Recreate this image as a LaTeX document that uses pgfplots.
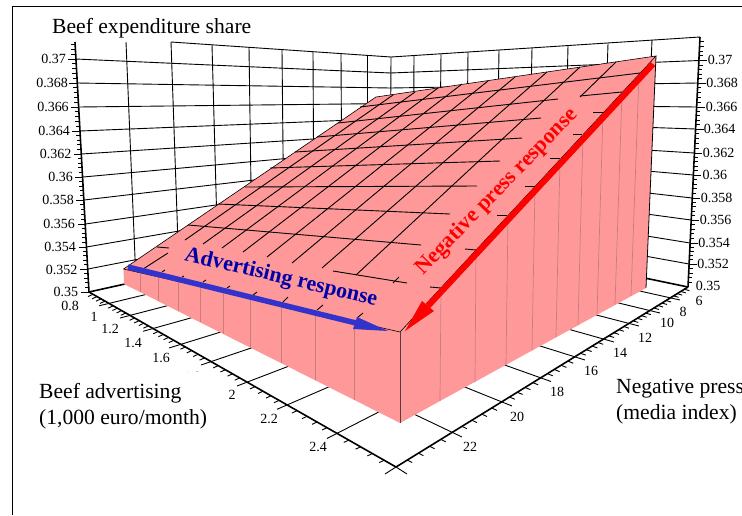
\documentclass[border=0pt]{standalone}
\usepackage{fontspec}
\setmainfont{Liberation Serif}
\usepackage{pgfplots}
\pgfplotsset{compat=1.18}
\definecolor{surf}{HTML}{FF9999}
\definecolor{rib}{HTML}{C87C80}
\definecolor{corner}{HTML}{5A3A3C}
\definecolor{advblue}{HTML}{3333CC}
\definecolor{advtext}{HTML}{0000AA}
\pgfplotsset{
  gl/.style={black,line width=0.9pt},
  ax/.style={black,line width=1.6pt},
  tk/.style={black,line width=0.9pt},
  mesh/.style={black,line width=0.9pt},
  ribline/.style={rib,line width=0.7pt},
}
% the picture is in perspective, so everything is plotted in picture coordinates
\newcommand{\seg}[5][gl]{\addplot[#1] coordinates {(#2,#3)(#4,#5)};}
\newcommand{\minors}[6]{%
  \pgfplotsforeachungrouped \t in {0.2,0.4,0.6,0.8}{%
    \pgfmathsetmacro{\xa}{#1+\t*(#3-#1)}%
    \pgfmathsetmacro{\ya}{#2+\t*(#4-#2)}%
    \pgfmathsetmacro{\xb}{\xa+#5}%
    \pgfmathsetmacro{\yb}{\ya+#6}%
    \edef\temp{\noexpand\addplot[tk] coordinates {(\xa,\ya)(\xb,\yb)};}\temp
  }}
\newcommand{\ticklab}[3]{\node[font=\fontsize{14}{16}\selectfont,inner sep=0pt] at (#1,#2) {#3};}
\begin{document}
\begin{tikzpicture}
\path[use as bounding box,clip] (0,0) rectangle (742pt,515pt);
\begin{axis}[
  scale only axis,
  width=742pt,
  height=515pt,
  xmin=0, xmax=742,
  ymin=0, ymax=515,
  y dir=reverse,
  hide axis,
  clip=false,
]
% left wall, horizontal lines
\seg{75.5}{59}{390.5}{73}
\seg{77}{83}{390.5}{88}
\seg{78.5}{107}{390.5}{103.5}
\seg{80}{131}{390.5}{118.5}
\seg{81.5}{154}{390.5}{134}
\seg{83}{177}{390.5}{149}
\seg{84}{200}{390.5}{164}
\seg{85.5}{224}{390.5}{179.5}
\seg{86.5}{247}{390.5}{194.5}
\seg{88}{269}{390.5}{210}
% left wall, vertical lines
\seg{126}{42}{136}{281.5}
\seg{171}{42}{179}{272}
\seg{212}{45}{218}{263}
\seg{249}{47}{252}{256}
\seg{282}{50}{284}{249}
\seg{313}{52}{314}{242}
\seg{341}{54}{342}{236}
\seg{367}{56}{367}{230}
\seg{391}{57}{390}{225}
\seg{171}{42}{391}{57}
% right wall
\seg{391}{57}{700}{37}
\seg{390.5}{73}{699}{60.5}
\seg{390.5}{88}{697.7}{83}
\seg{390.5}{103.5}{696.5}{107}
\seg{390.5}{118.5}{695.5}{129}
\seg{390.5}{134}{694.3}{153}
\seg{390.5}{149}{693.3}{175}
\seg{390.5}{164}{692.2}{198}
\seg{390.5}{179.5}{691}{220}
\seg{390.5}{194.5}{690}{243}
\seg{390.5}{210}{689}{264}
\seg{414}{56}{413}{230}
\seg{441}{54}{439}{235}
\seg{468}{52}{466}{241}
\seg{499}{50}{496}{247}
\seg{532}{48}{528}{254}
\seg{568}{46}{563}{261}
\seg{608}{43.5}{601}{269}
\seg{652}{40}{642}{277}
% floor, lines of constant advertising
\seg{99}{305.8}{413}{230}
\seg{120}{318}{439}{235}
\seg{143}{331.3}{466}{241}
\seg{169}{348}{496}{247}
\seg{201}{365}{528}{254}
\seg{237}{386}{563}{261}
\seg{277}{409.3}{601}{269}
\seg{327}{438.5}{642}{277}
\seg[ax]{89}{292}{390}{225}
% floor, lines of constant negative press
\seg{680}{300}{367}{230}
\seg{660}{313}{342}{236}
\seg{639}{326}{314}{242}
\seg{614}{342}{284}{249}
\seg{585}{360}{252}{256}
\seg{551}{381.5}{218}{263}
\seg{512}{406}{179}{272}
\seg{462}{437}{136}{281.5}
\seg[ax]{688}{287}{390}{225}
% axes
\seg[ax]{75}{42}{89}{292}
\seg[ax]{700}{37}{688}{287}
\seg[ax]{89}{292}{396}{467}
\seg[ax]{688}{287}{396}{467}
\seg[tk]{385}{474}{396}{467}
\seg[tk]{396}{467}{407}{474}
% vertical axis ticks, left
\seg[tk]{67.5}{59}{75.5}{59}
\seg[tk]{69}{83}{77}{83}
\seg[tk]{70.5}{107}{78.5}{107}
\seg[tk]{72}{131}{80}{131}
\seg[tk]{73.5}{154}{81.5}{154}
\seg[tk]{75}{177}{83}{177}
\seg[tk]{76}{200}{84}{200}
\seg[tk]{77.5}{224}{85.5}{224}
\seg[tk]{78.5}{247}{86.5}{247}
\seg[tk]{80}{269}{88}{269}
\seg[tk]{81}{292}{89}{292}
\seg[tk]{71}{54.3}{75.2}{54.3}
\seg[tk]{71}{49.6}{75}{49.6}
\seg[tk]{70.5}{44.9}{74.7}{44.9}
\minors{75.5}{59}{77}{83}{-4}{0}
\minors{77}{83}{78.5}{107}{-4}{0}
\minors{78.5}{107}{80}{131}{-4}{0}
\minors{80}{131}{81.5}{154}{-4}{0}
\minors{81.5}{154}{83}{177}{-4}{0}
\minors{83}{177}{84}{200}{-4}{0}
\minors{84}{200}{85.5}{224}{-4}{0}
\minors{85.5}{224}{86.5}{247}{-4}{0}
\minors{86.5}{247}{88}{269}{-4}{0}
\minors{88}{269}{89}{292}{-4}{0}
% vertical axis ticks, right
\seg[tk]{699}{60.5}{707}{60.5}
\seg[tk]{697.7}{83}{705.7}{83}
\seg[tk]{696.5}{107}{704.5}{107}
\seg[tk]{695.5}{129}{703.5}{129}
\seg[tk]{694.3}{153}{702.3}{153}
\seg[tk]{693.3}{175}{701.3}{175}
\seg[tk]{692.2}{198}{700.2}{198}
\seg[tk]{691}{220}{699}{220}
\seg[tk]{690}{243}{698}{243}
\seg[tk]{689}{264}{697}{264}
\minors{700}{37}{699}{60.5}{4}{0}
\minors{699}{60.5}{697.7}{83}{4}{0}
\minors{697.7}{83}{696.5}{107}{4}{0}
\minors{696.5}{107}{695.5}{129}{4}{0}
\minors{695.5}{129}{694.3}{153}{4}{0}
\minors{694.3}{153}{693.3}{175}{4}{0}
\minors{693.3}{175}{692.2}{198}{4}{0}
\minors{692.2}{198}{691}{220}{4}{0}
\minors{691}{220}{690}{243}{4}{0}
\minors{690}{243}{689}{264}{4}{0}
\minors{689}{264}{688}{287}{4}{0}
% floor axis minor ticks
\minors{89}{292}{109}{303.4}{-5}{2.3}
\minors{109}{303.4}{130}{315.4}{-5}{2.3}
\minors{130}{315.4}{153}{328.5}{-5}{2.3}
\minors{153}{328.5}{179}{343.3}{-5}{2.3}
\minors{179}{343.3}{211}{361.5}{-5}{2.3}
\minors{211}{361.5}{247}{382}{-5}{2.3}
\minors{247}{382}{287}{405}{-5}{2.3}
\minors{287}{405}{337}{433.4}{-5}{2.3}
\minors{337}{433.4}{396}{467}{-5}{2.3}
\minors{688}{287}{670}{298}{5}{1.5}
\minors{670}{298}{650}{310.5}{5}{1.5}
\minors{650}{310.5}{629}{323.5}{5}{1.5}
\minors{629}{323.5}{604}{339}{5}{1.6}
\minors{604}{339}{575}{357}{5}{1.7}
\minors{575}{357}{541}{378}{5}{2}
\minors{541}{378}{502}{402}{5}{2}
\minors{502}{402}{452}{432.5}{5}{2.3}
\minors{452}{432.5}{396}{467}{5}{2.4}
% side faces of the surface
\addplot[fill=surf,draw=none] coordinates {(123.5,269)(400,332)(400,423)(124,284)} --cycle;
\addplot[fill=surf,draw=none] coordinates {(400,332)(656,56)(646,288)(400,423)} --cycle;
% top face
\addplot[fill=surf,draw=black,line width=0.6pt] coordinates {(123.5,269)(376,97)(656,56)(400,332)} --cycle;
\seg[ribline]{140}{272.7}{140}{292}
\seg[ribline]{158}{276.9}{158}{301.2}
\seg[ribline]{178}{281.4}{178}{311.2}
\seg[ribline]{200}{286.4}{200}{322.3}
\seg[ribline]{223}{291.7}{223}{333.9}
\seg[ribline]{250}{297.8}{250}{347.5}
\seg[ribline]{281}{304.9}{281}{363.1}
\seg[ribline]{315}{312.6}{315}{380.3}
\seg[ribline]{354}{321.5}{354}{400}
\seg[ribline]{441}{288}{440}{401}
\seg[ribline]{476}{250}{475}{382}
\seg[ribline]{508}{215.5}{506}{365}
\seg[ribline]{535}{186.5}{532}{350.5}
\seg[ribline]{560}{159.5}{556}{337}
\seg[ribline]{583}{134.7}{578}{325}
\seg[ribline]{603}{113}{597}{314.5}
\seg[ribline]{622}{92.7}{615}{304.5}
\seg[ribline]{639}{74.4}{631}{296}
\seg[black,line width=0.8pt]{656}{56}{646}{288}
\seg[corner,line width=1pt]{400}{332}{400}{423}
% mesh, lines running up to the right
\seg[mesh]{140}{271}{168}{253}
\seg[mesh]{185}{240}{393}{95}
\seg[mesh]{203}{244}{415}{92}
\seg[mesh]{222}{248}{438}{88}
\seg[mesh]{243}{252}{462}{84}
\seg[mesh]{267}{257}{488}{81}
\seg[mesh]{292}{263}{515}{77}
\seg[mesh]{322}{268}{547}{72}
\seg[mesh]{356}{275}{580}{67}
\seg[mesh]{580}{97}{616}{62}
\seg[mesh]{393}{283}{399}{277}
\seg[mesh]{162}{272}{165}{270}
\seg[mesh]{182}{277}{184}{276}
\seg[mesh]{203}{282}{206}{280}
\seg[mesh]{227}{288}{230}{286}
\seg[mesh]{253}{295}{257}{292}
\seg[mesh]{283}{302}{288}{297}
\seg[mesh]{317}{310}{323}{305}
\seg[mesh]{357}{318}{363}{313}
% mesh, lines running across
\seg[mesh]{360}{107}{640}{73}
\seg[mesh]{338}{123}{558}{99}
\seg[mesh]{580}{96}{622}{92}
\seg[mesh]{317}{137}{541}{118}
\seg[mesh]{593}{112}{603}{112}
\seg[mesh]{295}{152}{522}{138}
\seg[mesh]{573}{134}{582}{134}
\seg[mesh]{270}{168}{500}{161}
\seg[mesh]{550}{158}{560}{158}
\seg[mesh]{245}{187}{477}{186}
\seg[mesh]{525}{186}{535}{186}
\seg[mesh]{218}{204}{450}{214}
\seg[mesh]{497}{215}{507}{215}
\seg[mesh]{188}{225}{421}{245}
\seg[mesh]{465}{249}{476}{250}
\seg[mesh]{157}{247}{169}{248}
\seg[mesh]{333}{271}{407}{283}
\seg[mesh]{430}{287}{441}{288}
% response arrows
\seg[advblue,line width=5.5pt]{128}{267}{356}{323}
\addplot[fill=advblue,draw=none] coordinates {(357,317)(353,329)(388,331)} --cycle;
\seg[red,line width=6pt]{653}{64}{428}{306}
\addplot[fill=red,draw=none] coordinates {(422,301)(434,311)(405,331)} --cycle;
\node[font=\fontsize{22}{24}\selectfont\bfseries,text=advtext,rotate=-13.3,inner sep=0pt] at (281,278) {Advertising response};
\node[font=\fontsize{22}{24}\selectfont\bfseries,text=red,rotate=46,inner sep=0pt] at (497,192) {Negative press response};
% tick labels
\ticklab{53.7}{59}{0.37}
\ticklab{52}{83}{0.368}
\ticklab{53}{107}{0.366}
\ticklab{54}{131}{0.364}
\ticklab{55.5}{154}{0.362}
\ticklab{60.5}{177}{0.36}
\ticklab{58}{200}{0.358}
\ticklab{59}{224}{0.356}
\ticklab{60}{247}{0.354}
\ticklab{61.7}{270}{0.352}
\ticklab{65.8}{292}{0.35}
\ticklab{720}{60}{0.37}
\ticklab{722}{83}{0.368}
\ticklab{721.5}{107}{0.366}
\ticklab{719.5}{129}{0.364}
\ticklab{718.7}{153}{0.362}
\ticklab{714.8}{175}{0.36}
\ticklab{716.7}{198}{0.358}
\ticklab{715.5}{220}{0.356}
\ticklab{714}{243}{0.354}
\ticklab{713}{264}{0.352}
\ticklab{708}{286}{0.35}
\ticklab{70}{306}{0.8}
\ticklab{94}{317}{1}
\ticklab{110}{329}{1.2}
\ticklab{133}{343}{1.4}
\ticklab{161}{358}{1.6}
\ticklab{192}{377}{1.8}
\ticklab{232}{395}{2}
\ticklab{269}{419}{2.2}
\ticklab{318}{447}{2.4}
\ticklab{699}{301}{6}
\ticklab{683}{312}{8}
\ticklab{667}{323}{10}
\ticklab{645}{338}{12}
\ticklab{620}{353}{14}
\ticklab{591}{371}{16}
\ticklab{557}{392}{18}
\ticklab{517}{417}{20}
\ticklab{470}{447}{22}
% white box of the axis title hides the top of the 1.8
\addplot[fill=white,draw=none] coordinates {(36,372)(208,372)(208,432)(36,432)} --cycle;
% axis titles
\node[font=\fontsize{21.6}{24}\selectfont,anchor=base west,inner sep=0pt] at (52,33) {Beef expenditure share};
\node[font=\fontsize{21.6}{24}\selectfont,anchor=base west,inner sep=0pt] at (39,398) {Beef advertising};
\node[font=\fontsize{21.6}{24}\selectfont,anchor=base west,inner sep=0pt] at (39,424) {(1,000 euro/month)};
\node[font=\fontsize{21.6}{24}\selectfont,anchor=base west,inner sep=0pt] at (616,393) {Negative press};
\node[font=\fontsize{21.6}{24}\selectfont,anchor=base west,inner sep=0pt] at (616,419) {(media index)};
% frame
\seg[black,line width=1pt]{12.5}{515}{12.5}{6}
\seg[black,line width=1pt]{12.5}{6}{742}{6}
\end{axis}
\end{tikzpicture}
\end{document}
